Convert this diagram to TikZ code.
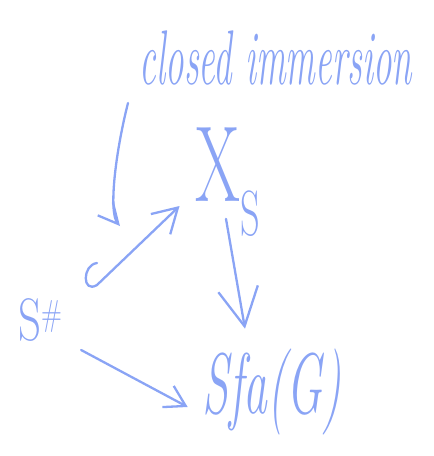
\documentclass[tikz,border=0pt]{standalone}
\usepackage{graphicx}
\usetikzlibrary{arrows.meta}
\definecolor{ink}{HTML}{8AA4F5}
\tikzset{
  hand/.style={draw=ink, line width=2.3pt, line cap=round, line join=round},
  txt/.style={text=ink, inner sep=0pt},
}
\begin{document}
\begin{tikzpicture}[x=1pt,y=-1pt]
\useasboundingbox (0,0) rectangle (434,456);
% labels / nodes
\node[txt] (lab) at (276,58) {\scalebox{0.74}[1.55]{\fontsize{50}{50}\selectfont\itshape closed immersion}};
\node[txt] (xs) at (228,182) {\scalebox{0.6}[1]{\fontsize{108}{108}\selectfont X\raisebox{-0.32em}{\fontsize{64}{64}\selectfont S}}};
\node[txt] (sh) at (40,320) {\scalebox{0.75}[1]{\fontsize{60}{60}\selectfont S\raisebox{0.25em}{\fontsize{36}{36}\selectfont\#}}};
\node[txt] (sfa) at (272,392) {\scalebox{0.58}[1.05]{\fontsize{82}{82}\selectfont\itshape Sfa(G)}};
% connector ends
\coordinate (c0) at (128,103);
\coordinate (c1) at (120,226);
\coordinate (hk) at (97,263);
\coordinate (h1) at ([shift={(-16,24)}]xs.west);
\coordinate (d0) at ([shift={(-2,-18)}]xs.south);
\coordinate (d1) at ([shift={(-27,-20)}]sfa.north);
\coordinate (s0) at ([shift={(19,30)}]sh.east);
\coordinate (s1) at ([shift={(-15,15)}]sfa.west);
% connectors
\draw[hand, -{Straight Barb[length=20pt,width=20pt]}] (c0) .. controls (116,150) and (108,212) .. (c1);
\draw[hand, -{Straight Barb[length=24pt,width=28pt]}] (hk) .. controls (82,265) and (82,294) .. (97,285) -- (h1);
\draw[hand, -{Straight Barb[length=38pt,width=40pt]}] (d0) -- (d1);
\draw[hand, -{Straight Barb[length=20pt,width=24pt]}] (s0) -- (s1);
\end{tikzpicture}
\end{document}
